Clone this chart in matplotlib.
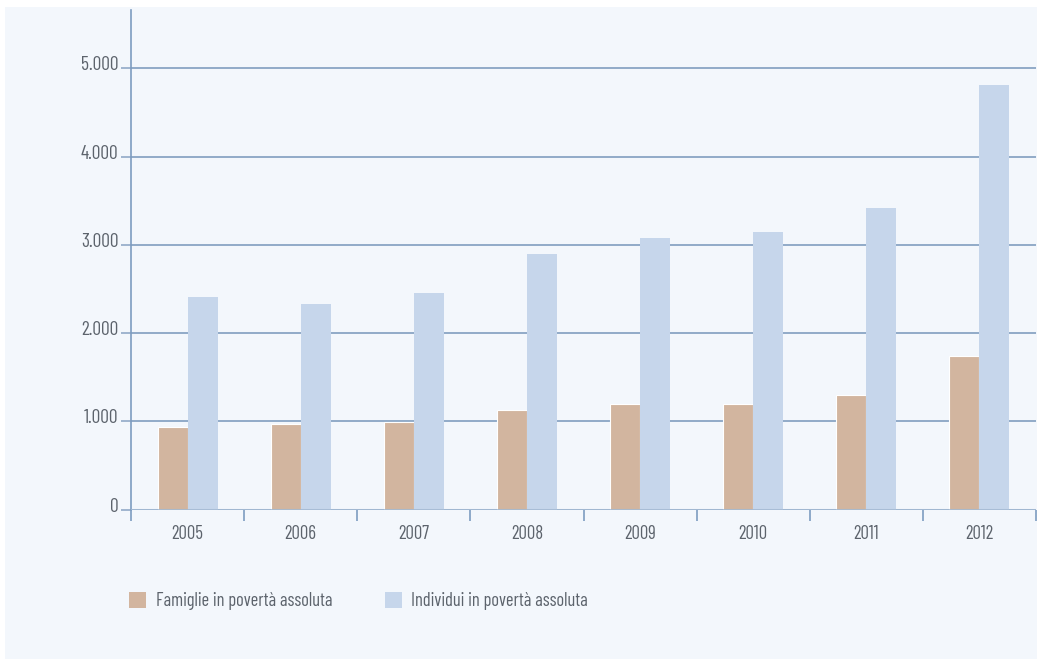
import numpy as np
import matplotlib
matplotlib.use('Agg')
import matplotlib.pyplot as plt
from matplotlib.patches import Rectangle, Patch
from matplotlib.transforms import ScaledTranslation

# absolute poverty in Italy, thousands
anni = ['2005', '2006', '2007', '2008', '2009', '2010', '2011', '2012']
famiglie = [936, 970, 996, 1131, 1199, 1199, 1298, 1735]
individui = [2409, 2330, 2454, 2896, 3077, 3145, 3417, 4811]
yticks = [0, 1000, 2000, 3000, 4000, 5000]
ylabels = ['0', '1.000', '2.000', '3.000', '4.000', '5.000']
legend_labels = ['Famiglie in povertà assoluta', 'Individui in povertà assoluta']

col_fam = '#d2b59f'
col_ind = '#c6d6eb'
col_grid = '#91aac8'
col_axis = '#7d9cc0'
col_text = '#5c636c'

plt.rcParams['font.family'] = ['Barlow Condensed', 'Liberation Sans Narrow', 'DejaVu Sans']

W, H = 1037, 659
fig = plt.figure(figsize=(W / 100, H / 100), dpi=100, facecolor='white')

# light panel behind everything
fig.patches.append(Rectangle((5 / W, 0), 1 - 5 / W, 1 - 7 / H,
                             transform=fig.transFigure, facecolor='#f3f7fc',
                             edgecolor='none', zorder=-5))

ax = fig.add_axes([131 / W, (H - 509.6) / H, (1036 - 131) / W, (509.6 - 10) / H])
ax.set_facecolor('none')
ax.set_zorder(2)

x = np.arange(len(anni))
bw = 0.265
ax.bar(x, famiglie, width=-bw, align='edge', color=col_fam,
       edgecolor='white', linewidth=0.8, zorder=2)
ax.bar(x, individui, width=bw, align='edge', color=col_ind,
       edgecolor='none', zorder=2)

ax.set_xlim(-0.5, len(anni) - 0.5)
ax.set_ylim(0, 5660)

# gridlines behind the bars, baseline on top
ax.yaxis.grid(True, color=col_grid, linewidth=1.4)
ax.set_axisbelow(True)
ax.axhline(0, color='#a3b9d3', linewidth=2.2, alpha=0.85, zorder=3)

for s in ['top', 'right', 'bottom']:
    ax.spines[s].set_visible(False)
ax.spines['left'].set_color(col_axis)
ax.spines['left'].set_linewidth(1.2)

ax.set_yticks(yticks)
ax.set_yticklabels(ylabels)
ax.tick_params(axis='y', length=7, width=1.2, color=col_grid, pad=2,
               labelsize=14, labelcolor=col_text)
off = ScaledTranslation(0, 5 / 100, fig.dpi_scale_trans)
for lab in ax.get_yticklabels():
    lab.set_transform(lab.get_transform() + off)

ax.set_xticks(x)
ax.set_xticklabels(anni)
ax.set_xticks(np.arange(-0.5, len(anni)), minor=True)
ax.tick_params(axis='x', which='major', length=0, pad=11,
               labelsize=13.5, labelcolor=col_text)
ax.tick_params(axis='x', which='minor', length=8, width=1.2, color=col_axis)

handles = [Patch(facecolor=col_fam, edgecolor='none'),
           Patch(facecolor=col_ind, edgecolor='none')]
fig.legend(handles, legend_labels, loc='center left',
           bbox_to_anchor=(129 / W, (H - 601) / H), ncol=2, frameon=False,
           fontsize=13.3, labelcolor=col_text, handlelength=0.92,
           handleheight=0.98, handletextpad=0.52, columnspacing=2.85,
           borderpad=0, borderaxespad=0)

fig.savefig('out.png', dpi=100, facecolor='white')
